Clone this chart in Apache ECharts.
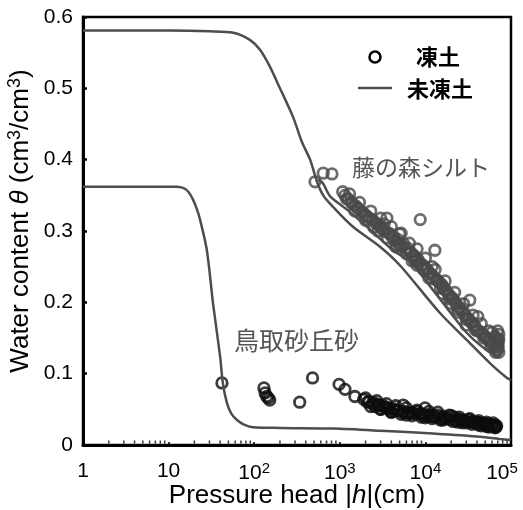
<!DOCTYPE html>
<html>
<head>
<meta charset="utf-8">
<script src="https://cdn.jsdelivr.net/npm/echarts@6/dist/echarts.min.js"></script>
<style>
  html, body { margin: 0; padding: 0; background: #fff; }
  #main { width: 523px; height: 510px; }
</style>
</head>
<body>
<div id="main"></div>
<script>
  // 未凍土 curves [h(cm), theta]
  var sandCurve = [[1,0.362],[10,0.362],[12.5,0.362],[15,0.360],[17,0.355],[19.3,0.344],[21.5,0.330],[23.3,0.316],[28,0.273],[33,0.199],[40,0.124],[43,0.087],[48,0.059],[54,0.044],[63,0.035],[75,0.029],[97,0.025],[200,0.024],[835,0.023],[3000,0.020],[12300,0.016],[40000,0.012],[74000,0.0085],[100000,0.007]];
  var siltCurve = [[1,0.581],[10,0.581],[30,0.580],[57,0.578],[89,0.568],[117,0.554],[153,0.530],[200,0.500],[284,0.460],[360,0.425],[450,0.400],[542,0.369],[640,0.350],[832,0.334],[1426,0.306],[2950,0.278],[5030,0.252],[14800,0.185],[30600,0.147],[60000,0.112],[89800,0.094],[100000,0.091]];
  var siltCurve2 = [[560,0.372],[635,0.367],[769,0.349],[1214,0.330],[2080,0.306],[4170,0.273],[6600,0.257],[12300,0.217],[30600,0.157],[52000,0.133],[74000,0.123]];

  // 凍土 measured points [h(cm), theta]
  var sandFrozen = [[42,0.087],[130,0.080],[134,0.073],[140,0.068],[152,0.063],[146,0.066],[340,0.060],[480,0.094],[980,0.085],[1150,0.078],[1500,0.068],
    [1900,0.064],[2200,0.061],[2500,0.059],[2800,0.057],[3200,0.055],[3500,0.053],[3800,0.050],[4200,0.051],[4600,0.049],[5500,0.056],[5600,0.047],
    [6200,0.046],[7000,0.045],[8000,0.047],[9900,0.052],[9000,0.044],[11000,0.043],[12500,0.041],[14000,0.042],[16000,0.040],[18000,0.038],[20000,0.041],
    [22000,0.039],[25000,0.036],[28000,0.035],[32000,0.036],[36000,0.033],[40000,0.032],[45000,0.031],[50000,0.030],[55000,0.029],[60000,0.027],[65000,0.028],
    [3000,0.050],[4000,0.046],[6000,0.042],[2600,0.054],[10000,0.038],[15000,0.035],[24000,0.032],[30000,0.031],[42000,0.028],[52000,0.026],
    [2000,0.066],[2700,0.062],[3500,0.058],[4500,0.055],[6000,0.052],[8000,0.049],[11000,0.047],[14000,0.046],[19000,0.042],[25000,0.039],
    [33000,0.037],[42000,0.034],[52000,0.032],[62000,0.031],[2300,0.054],[3000,0.050],[4000,0.046],[5200,0.043],[7000,0.041],[9000,0.039],
    [12000,0.037],[16000,0.035],[21000,0.033],[27000,0.031],[35000,0.029],[45000,0.027],[55000,0.025],[65000,0.024],[68000,0.027],
    [2100,0.060],[2400,0.058],[2900,0.055],[3300,0.053],[3700,0.051],[4300,0.049],[4800,0.048],[5400,0.046],[6500,0.045],[7500,0.044],
    [8500,0.043],[9500,0.042],[10500,0.041],[11500,0.040],[13000,0.039],[15000,0.038],[17000,0.037],[19000,0.036],[22000,0.035],[26000,0.034],
    [30000,0.033],[34000,0.032],[38000,0.031],[43000,0.030],[48000,0.029],[53000,0.028],[58000,0.028],[63000,0.026],[67000,0.025]];
  var siltFrozen = [[513,0.369],[640,0.381],[810,0.380],[1080,0.355],[1150,0.350],[1250,0.345],[1350,0.341],[1500,0.336],[1650,0.331],[1800,0.327],
    [2000,0.322],[2200,0.318],[2400,0.316],[2700,0.310],[3000,0.305],[3300,0.310],[3550,0.318],[3400,0.300],[3900,0.296],[4300,0.292],[4800,0.288],
    [5200,0.297],[5600,0.282],[6200,0.276],[6800,0.270],[7500,0.265],[8200,0.260],[8700,0.316],[9000,0.252],[10000,0.248],[11000,0.242],[12000,0.250],
    [12900,0.273],[14000,0.230],[15500,0.225],[17000,0.218],[19000,0.210],[21000,0.205],[23000,0.197],[25000,0.193],[28000,0.186],[31000,0.178],
    [33000,0.203],[35000,0.172],[38000,0.166],[41000,0.180],[45000,0.158],[50000,0.152],[55000,0.147],[60000,0.142],[65000,0.138],[70000,0.135],
    [4500,0.278],[7000,0.258],[11000,0.234],[20000,0.198],[30000,0.168],[60000,0.158],[68000,0.150],[70000,0.142],[2500,0.305],[5000,0.279],
    [8000,0.252],[16000,0.212],[24000,0.186],[40000,0.160],[66000,0.130],
    [1300,0.352],[1700,0.340],[2300,0.328],[3000,0.318],[4000,0.306],[5000,0.296],[6500,0.283],[8000,0.275],[10000,0.262],[13000,0.246],
    [17000,0.230],[22000,0.214],[28000,0.198],[36000,0.182],[45000,0.170],[55000,0.160],[65000,0.152],[72000,0.148],
    [1500,0.328],[2000,0.315],[2800,0.300],[3600,0.290],[4600,0.280],[6000,0.268],[7500,0.258],[9500,0.246],[12000,0.233],[15000,0.220],
    [19000,0.205],[24000,0.190],[30000,0.176],[38000,0.162],[48000,0.150],[58000,0.140],[68000,0.132],[72000,0.130],
    [1200,0.345],[1400,0.338],[1600,0.333],[1900,0.325],[2100,0.320],[2600,0.312],[2900,0.308],[3200,0.302],[3700,0.297],[4100,0.291],
    [4400,0.287],[4900,0.283],[5400,0.279],[5900,0.274],[6600,0.270],[7200,0.265],[7800,0.261],[8500,0.256],[9200,0.253],[10500,0.246],
    [11500,0.240],[12500,0.236],[13500,0.232],[14500,0.228],[16000,0.222],[17500,0.216],[18500,0.212],[20500,0.206],[22500,0.200],[26000,0.190],
    [29000,0.182],[32000,0.176],[34000,0.172],[37000,0.168],[42000,0.160],[47000,0.155],[52000,0.150],[57000,0.146],[62000,0.142],[67000,0.140],
    [71000,0.138],[70000,0.160],[72000,0.155],[71000,0.145]];

  var xMinorTicks = [2,3,4,5,6,7,8,9,20,30,40,50,60,70,80,90,200,300,400,500,600,700,800,900,
    2000,3000,4000,5000,6000,7000,8000,9000,20000,30000,40000,50000,60000,70000,80000,90000];
  // last label is nudged left so it stays inside the page, like the original
  var xTickLabels = ['1', '10', '10{s|2}', '10{s|3}', '10{s|4}', '10{e|5}'];
  var yTickLabels = ['0', '0.1', '0.2', '0.3', '0.4', '0.5', '0.6'];

  var lineGray = '#4d4d4d';
  var txtFont = '"Liberation Sans", Arial, sans-serif';
  var cjkFont = '"Noto Sans CJK JP", sans-serif';

  var chart = echarts.init(document.getElementById('main'));
  chart.setOption({
    animation: false,
    grid: { left: 83, right: 12, top: 17, bottom: 65, show: true, borderColor: '#000', borderWidth: 2.5,
      containLabel: false, outerBoundsMode: 'none' },
    xAxis: {
      type: 'log', logBase: 10, min: 1, max: 100000,
      name: 'Pressure head |{i|h}|(cm)', nameLocation: 'middle', nameGap: 38, nameMoveOverlap: false,
      nameTextStyle: { fontFamily: txtFont, fontSize: 26, color: '#000', rich: { i: { fontFamily: txtFont, fontSize: 26, fontStyle: 'italic', color: '#000' } } },
      axisLine: { lineStyle: { color: '#000', width: 3 } },
      axisTick: { inside: true, length: 3, lineStyle: { color: '#000', width: 1.5 } },
      splitLine: { show: false },
      axisLabel: {
        margin: 16, color: '#000', fontFamily: txtFont, fontSize: 21, hideOverlap: false,
        formatter: function (v) { return xTickLabels[Math.round(Math.log10(v))]; },
        rich: {
          s: { fontSize: 15, verticalAlign: 'bottom', padding: [0, 0, 10, 0], fontFamily: txtFont, color: '#000' },
          e: { fontSize: 15, verticalAlign: 'bottom', padding: [0, 18, 10, 0], fontFamily: txtFont, color: '#000' }
        }
      }
    },
    yAxis: {
      type: 'value', min: 0, max: 0.6, interval: 0.1,
      axisLine: { show: true, lineStyle: { color: '#000', width: 3 } },
      axisTick: { show: true, inside: true, length: 4, lineStyle: { color: '#000', width: 2.5 } },
      splitLine: { show: false },
      axisLabel: {
        margin: 10, color: '#000', fontFamily: txtFont, fontSize: 21,
        formatter: function (v) { return yTickLabels[Math.round(v * 10)]; }
      }
    },
    graphic: [
      { type: 'text', x: 21, y: 221, rotation: Math.PI / 2,
        style: { text: 'Water content {i|θ} (cm{s|3}/cm{s|3})', x: 0, y: 0, align: 'center', verticalAlign: 'middle',
          font: '26px ' + txtFont, fill: '#000',
          rich: {
            i: { fontFamily: txtFont, fontSize: 26, fontStyle: 'italic', fill: '#000' },
            s: { fontFamily: txtFont, fontSize: 18, verticalAlign: 'bottom', padding: [0, 0, 11, 0], fill: '#000' }
          } } },
      { type: 'circle', shape: { cx: 375, cy: 57, r: 5.5 }, style: { fill: 'none', stroke: '#000', lineWidth: 2.5 } },
      { type: 'line', shape: { x1: 358, y1: 88, x2: 392, y2: 88 }, style: { stroke: lineGray, lineWidth: 2.5 } },
      { type: 'text', style: { text: '凍土', x: 416, y: 57, verticalAlign: 'middle', font: 'bold 22px ' + cjkFont, fill: '#000' } },
      { type: 'text', style: { text: '未凍土', x: 407, y: 89, verticalAlign: 'middle', font: 'bold 22px ' + cjkFont, fill: '#000' } },
      { type: 'text', style: { text: '藤の森シルト', x: 352, y: 167, verticalAlign: 'middle', font: '23px ' + cjkFont, fill: '#555' } },
      { type: 'text', style: { text: '鳥取砂丘砂', x: 234, y: 340, verticalAlign: 'middle', font: '25px ' + cjkFont, fill: '#555' } }
    ],
    series: [
      { name: '未凍土', type: 'line', data: sandCurve, showSymbol: false, smooth: 0.3, silent: true,
        lineStyle: { color: lineGray, width: 2.5 } },
      { name: '未凍土', type: 'line', data: siltCurve, showSymbol: false, smooth: 0.3, silent: true,
        lineStyle: { color: lineGray, width: 2.5 } },
      { name: '未凍土', type: 'line', data: siltCurve2, showSymbol: false, smooth: 0.3, silent: true,
        lineStyle: { color: lineGray, width: 2.5 } },
      { name: '凍土', type: 'scatter', data: siltFrozen, symbol: 'circle', symbolSize: 10.5, silent: true,
        itemStyle: { color: 'rgba(0,0,0,0)', borderColor: '#4a4a4a', borderWidth: 2.8 } },
      { name: '凍土', type: 'scatter', data: sandFrozen, symbol: 'circle', symbolSize: 10.5, silent: true,
        itemStyle: { color: 'rgba(0,0,0,0)', borderColor: '#0d0d0d', borderWidth: 2.8 } },
      { name: 'minor', type: 'scatter', silent: true, symbol: 'rect', symbolSize: [1.5, 3], symbolOffset: [0, -3],
        data: xMinorTicks.map(function (h) { return [h, 0]; }), itemStyle: { color: '#000' }, z: 5 }
    ]
  });
</script>
</body>
</html>
